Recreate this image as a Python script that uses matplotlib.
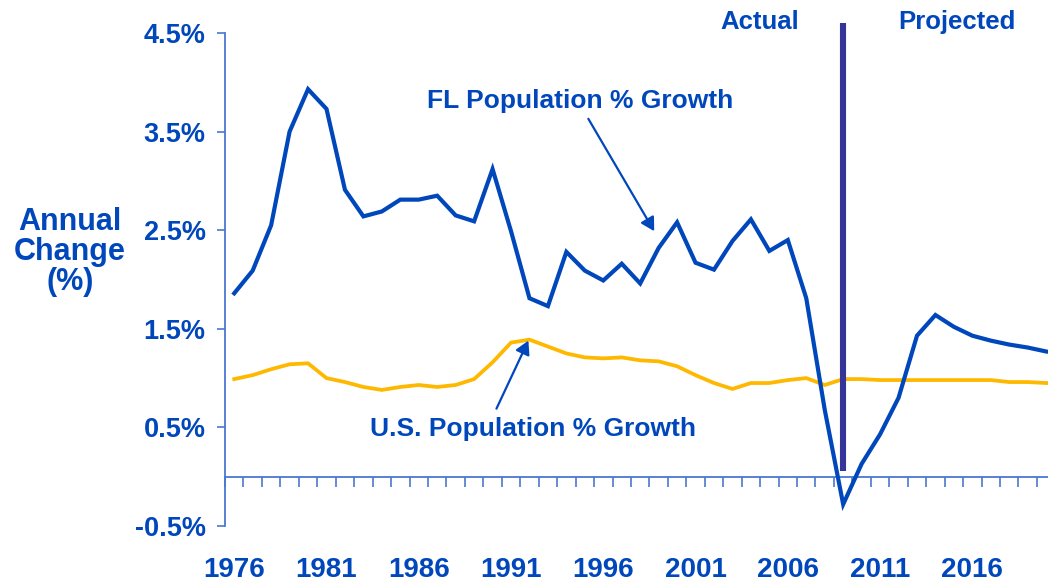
import matplotlib
matplotlib.use('Agg')
import matplotlib.pyplot as plt
from matplotlib.ticker import FixedLocator, FuncFormatter
import numpy as np

# Annual population growth, percent
years = list(range(1976, 2021))
fl_growth = [1.86, 2.09, 2.55, 3.50, 3.93, 3.73, 2.91, 2.64, 2.69, 2.81,
             2.81, 2.85, 2.65, 2.59, 3.12, 2.49, 1.81, 1.73, 2.28, 2.09,
             1.99, 2.16, 1.96, 2.32, 2.58, 2.17, 2.10, 2.39, 2.61, 2.29,
             2.40, 1.81, 0.68, -0.28, 0.13, 0.43, 0.80, 1.43, 1.64, 1.52,
             1.43, 1.38, 1.34, 1.31, 1.27]
us_growth = [0.99, 1.03, 1.09, 1.14, 1.15, 1.00, 0.96, 0.91, 0.88, 0.91,
             0.93, 0.91, 0.93, 0.99, 1.16, 1.36, 1.39, 1.32, 1.25, 1.21,
             1.20, 1.21, 1.18, 1.17, 1.12, 1.03, 0.95, 0.89, 0.95, 0.95,
             0.98, 1.00, 0.93, 0.99, 0.99, 0.98, 0.98, 0.98, 0.98, 0.98,
             0.98, 0.98, 0.96, 0.96, 0.95]
label_years = [1976, 1981, 1986, 1991, 1996, 2001, 2006, 2011, 2016]
y_ticks = [-0.5, 0.5, 1.5, 2.5, 3.5, 4.5]
split_year = 2009

BLUE = '#0047BB'
AXIS = '#4A78D0'
GOLD = '#FFB800'
BAR = '#353599'
FONT = ['Liberation Sans', 'DejaVu Sans']

fig = plt.figure(figsize=(10.48, 5.86), dpi=100)
ax = fig.add_axes([225 / 1048, 60 / 586, 823 / 1048, 493 / 586])

x = np.arange(len(years))
ax.plot(x, us_growth, color=GOLD, linewidth=2.7, solid_joinstyle='miter', zorder=3)
ax.plot(x, fl_growth, color=BLUE, linewidth=3.0, solid_joinstyle='miter', zorder=4)

# Actual / projected divider
xs = years.index(split_year)
ax.plot([xs, xs], [0.06, 4.6], color=BAR, linewidth=4.4, solid_capstyle='butt',
        clip_on=False, zorder=5)

ax.set_xlim(-0.5, 44.1)
ax.set_ylim(-0.5, 4.5)

# axes styling
for s in ['top', 'right']:
    ax.spines[s].set_visible(False)
ax.spines['left'].set_color(AXIS)
ax.spines['left'].set_linewidth(1.3)
ax.spines['bottom'].set_position(('data', 0))
ax.spines['bottom'].set_color(AXIS)
ax.spines['bottom'].set_linewidth(1.3)

ax.yaxis.set_major_locator(FixedLocator(y_ticks))
ax.yaxis.set_major_formatter(FuncFormatter(lambda v, p: f'{v:.1f}%'))
ax.tick_params(axis='y', direction='out', length=6, width=1.2, color=AXIS,
               labelcolor=BLUE, pad=8)
for lab in ax.get_yticklabels():
    lab.set_family(FONT)
    lab.set_fontweight('bold')
    lab.set_fontsize(19.5)

ax.xaxis.set_major_locator(FixedLocator([years.index(y) for y in label_years]))
ax.set_xticklabels([str(y) for y in label_years])
ax.xaxis.set_minor_locator(FixedLocator(np.arange(-0.5, len(years), 1.0)))
ax.tick_params(axis='x', which='major', length=0, pad=58, labelcolor=BLUE)
ax.tick_params(axis='x', which='minor', direction='out', length=7, width=1.2, color=AXIS)
for lab in ax.get_xticklabels():
    lab.set_family(FONT)
    lab.set_fontweight('bold')
    lab.set_fontsize(20)

# labels and annotations
fig.text(70 / 1048, 1 - 252 / 586, 'Annual\nChange\n(%)', ha='center', va='center',
         color=BLUE, fontsize=22, fontweight='bold', family=FONT, linespacing=1.0)

arrow = dict(arrowstyle='-|>,head_length=0.8,head_width=0.45', color=BLUE, lw=1.6,
             shrinkA=0, shrinkB=0)
ax.text(10.43, 3.81, 'FL Population % Growth', ha='left', va='center', color=BLUE,
        fontsize=19, fontweight='bold', family=FONT)
ax.annotate('', xy=(22.76, 2.49), xytext=(19.19, 3.63), arrowprops=arrow)
ax.text(7.34, 0.48, 'U.S. Population % Growth', ha='left', va='center', color=BLUE,
        fontsize=19, fontweight='bold', family=FONT)
ax.annotate('', xy=(15.94, 1.38), xytext=(14.21, 0.69), arrowprops=arrow)

ax.text(28.49, 4.61, 'Actual', ha='center', va='center', color=BLUE,
        fontsize=18.5, fontweight='bold', family=FONT, clip_on=False)
ax.text(39.15, 4.61, 'Projected', ha='center', va='center', color=BLUE,
        fontsize=18.5, fontweight='bold', family=FONT, clip_on=False)

fig.savefig('out.png', dpi=100)
